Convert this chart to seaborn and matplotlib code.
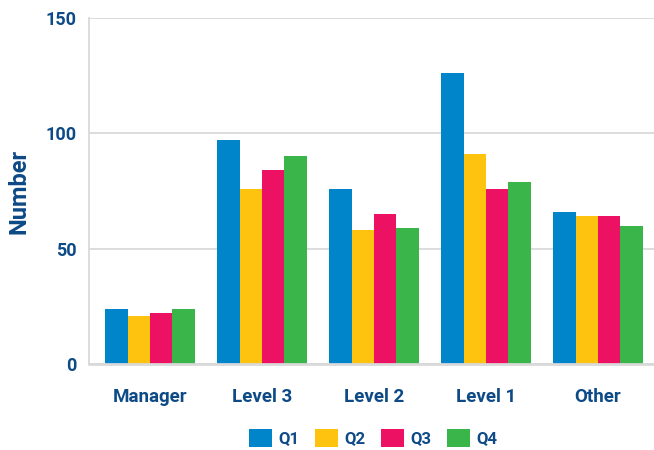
import matplotlib
matplotlib.use("Agg")
import matplotlib.pyplot as plt
import seaborn as sns
import pandas as pd

# Data
categories = ["Manager", "Level 3", "Level 2", "Level 1", "Other"]
quarters = ["Q1", "Q2", "Q3", "Q4"]
q1 = [24, 97, 76, 126, 66]
q2 = [21, 76, 58, 91, 64]
q3 = [22, 84, 65, 76, 64]
q4 = [24, 90, 59, 79, 60]
colors = ["#0085CA", "#FDC30F", "#ED1164", "#3AB54A"]

text_color = "#0d4a86"
grid_color = "#d9d9d9"

rows = []
for q, vals in zip(quarters, [q1, q2, q3, q4]):
    for cat, v in zip(categories, vals):
        rows.append({"Category": cat, "Quarter": q, "Number": v})
df = pd.DataFrame(rows)

sns.set_theme(style="white")
plt.rcParams["font.family"] = ["Roboto", "DejaVu Sans"]
plt.rcParams["font.weight"] = "bold"

fig = plt.figure(figsize=(6.54, 4.5), dpi=100)
ax = fig.add_axes([0.136, 0.191, 0.864, 0.769])

sns.barplot(data=df, x="Category", y="Number", hue="Quarter",
            palette=colors, order=categories, hue_order=quarters,
            width=0.8, saturation=1, linewidth=0, ax=ax, legend=True)

ax.set_ylim(0, 150)
ax.set_xlim(-0.545, 4.5)
ax.set_yticks([0, 50, 100, 150])
ax.yaxis.grid(True, color=grid_color, linewidth=1.3)
ax.set_axisbelow(True)

for side in ["top", "right"]:
    ax.spines[side].set_visible(False)
ax.spines["left"].set_color(grid_color)
ax.spines["left"].set_linewidth(1.3)
ax.spines["bottom"].set_color(grid_color)
ax.spines["bottom"].set_linewidth(2)

ax.tick_params(axis="x", length=0, pad=17, labelsize=13.5, labelcolor=text_color)
ax.tick_params(axis="y", length=0, pad=9, labelsize=13, labelcolor=text_color)
for lbl in ax.get_xticklabels() + ax.get_yticklabels():
    lbl.set_fontweight("bold")

ax.set_xlabel("")
ax.set_ylabel("Number", fontsize=17, fontweight="bold", color=text_color, labelpad=11)

handles, labels = ax.get_legend_handles_labels()
ax.get_legend().remove()
leg = fig.legend(handles, labels, loc="center", bbox_to_anchor=(0.571, 0.027),
                 ncol=4, frameon=False, fontsize=12,
                 handlelength=1.35, handleheight=1.25, handletextpad=0.4,
                 columnspacing=0.95)
for t in leg.get_texts():
    t.set_color(text_color)
    t.set_fontweight("bold")

fig.savefig("out.png", dpi=100)
